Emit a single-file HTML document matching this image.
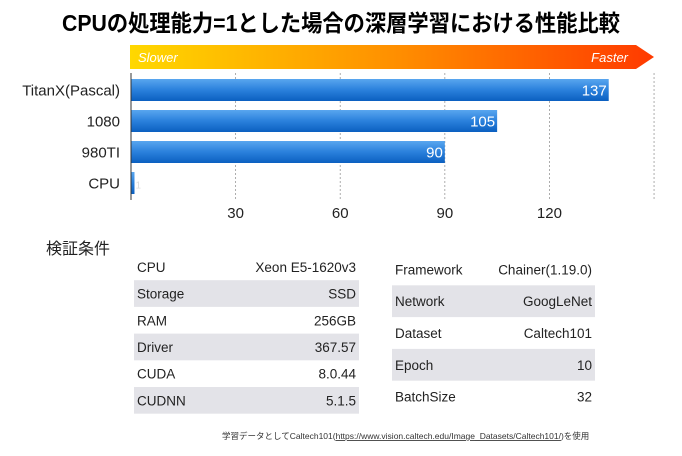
<!DOCTYPE html>
<html><head><meta charset="utf-8">
<style>
html,body{margin:0;padding:0;background:#fff;}
svg{display:block;font-family:"Liberation Sans","Noto Sans CJK JP",sans-serif;}
</style></head>
<body>
<svg id="chart" width="682" height="456" viewBox="0 0 682 456" xmlns="http://www.w3.org/2000/svg">
<defs>
<linearGradient id="speedGrad" x1="0" x2="1" y1="0" y2="0">
<stop offset="0" stop-color="#ffd800"/><stop offset="0.5" stop-color="#ff9000"/><stop offset="1" stop-color="#ff3a00"/>
</linearGradient>
<linearGradient id="barGrad" x1="0" x2="0" y1="0" y2="1">
<stop offset="0" stop-color="#59a6ef"/><stop offset="0.5" stop-color="#2a80dc"/><stop offset="1" stop-color="#0b5fc0"/>
</linearGradient>
</defs>
<text x="341" y="31" text-anchor="middle" font-size="23" font-weight="bold" textLength="558" lengthAdjust="spacingAndGlyphs">CPUの処理能力=1とした場合の深層学習における性能比較</text>
<g>
<polygon points="130,45 636,45 654,57 636,69 130,69" fill="url(#speedGrad)"/>
<text x="138" y="62" font-size="13" font-style="italic" fill="#fff">Slower</text>
<text x="628" y="62" font-size="13" font-style="italic" fill="#fff" text-anchor="end">Faster</text>
</g>
<g id="grid"></g>
<g id="bars"></g>
<line x1="131" y1="73" x2="131" y2="200" stroke="#333" stroke-width="1"/>
<g id="ticks"></g>
<text x="46" y="254" font-size="16" fill="#222">検証条件</text>
<g id="tableL"></g>
<g id="tableR"></g>
<text x="222" y="439" font-size="8.5" fill="#333">学習データとしてCaltech101(<tspan text-decoration="underline">https://www.vision.caltech.edu/Image_Datasets/Caltech101/</tspan>)を使用</text>
</svg>
<script>
const categories = ["TitanX(Pascal)", "1080", "980TI", "CPU"];
const values = [137, 105, 90, 1];
const tickValues = [30, 60, 90, 120, 150];
const tickLabels = ["30", "60", "90", "120", ""];
const leftKeys = ["CPU", "Storage", "RAM", "Driver", "CUDA", "CUDNN"];
const leftVals = ["Xeon E5-1620v3", "SSD", "256GB", "367.57", "8.0.44", "5.1.5"];
const rightKeys = ["Framework", "Network", "Dataset", "Epoch", "BatchSize"];
const rightVals = ["Chainer(1.19.0)", "GoogLeNet", "Caltech101", "10", "32"];

const NS = "http://www.w3.org/2000/svg";
const x0 = 131, pxPerUnit = 3.487;
const xScale = v => x0 + v * pxPerUnit;
const rowTop = i => 79 + i * 31;
const barH = 22;
function mk(tag, attrs, parent){const e=document.createElementNS(NS,tag);for(const k in attrs)e.setAttribute(k,attrs[k]);parent.appendChild(e);return e;}

const grid = document.getElementById('grid');
tickValues.forEach((t,i)=>{
  const l = mk('line',{x1:xScale(t),x2:xScale(t),y1:73,y2:200,stroke:'#999','stroke-width':0.8,'stroke-dasharray':'2,2'},grid);
  
  
});
const ticks = document.getElementById('ticks');
tickValues.forEach((t,i)=>{
  const tx = mk('text',{x:xScale(t),y:218,'text-anchor':'middle','font-size':15,fill:'#222'},ticks);
  tx.textContent = tickLabels[i];
  
  
});
const bars = document.getElementById('bars');
categories.forEach((c,i)=>{
  const y = rowTop(i);
  const r = mk('rect',{x:x0,y:y,width:Math.max(2,xScale(values[i])-x0),height:barH,fill:'url(#barGrad)'},bars);
  
  
  const lab = mk('text',{x:120,y:y+barH/2+5.5,'text-anchor':'end','font-size':15,fill:'#222'},bars);
  lab.textContent = c;
  
  
  const big = values[i]>5;
  const vt = mk('text',{x:big?xScale(values[i])-2:xScale(values[i])+1,y:y+barH/2+5.5,'text-anchor':big?'end':'start','font-size':big?15:10,fill:big?'#fff':'#ddd'},bars);
  vt.textContent = values[i];
  
  
});
function table(gid, keys, vals, x, w, top, rh){
  const g = document.getElementById(gid);
  keys.forEach((k,i)=>{
    const y = top + i*rh;
    if(i%2===1){
      const r = mk('rect',{x:x,y:y,width:w,height:rh,fill:'#e3e3e8'},g);
      
      
    }
    const kt = mk('text',{x:x+3,y:y+rh/2+5,'font-size':13.5,fill:'#222'},g);
    kt.textContent = k;
    
    
    const vt = mk('text',{x:x+w-3,y:y+rh/2+5,'text-anchor':'end','font-size':13.5,fill:'#222'},g);
    vt.textContent = vals[i];
    
    
  });
}
table('tableL', leftKeys, leftVals, 134, 225, 253.5, 26.7);
table('tableR', rightKeys, rightVals, 392, 203, 253.5, 31.8);
</script>
</body></html>
